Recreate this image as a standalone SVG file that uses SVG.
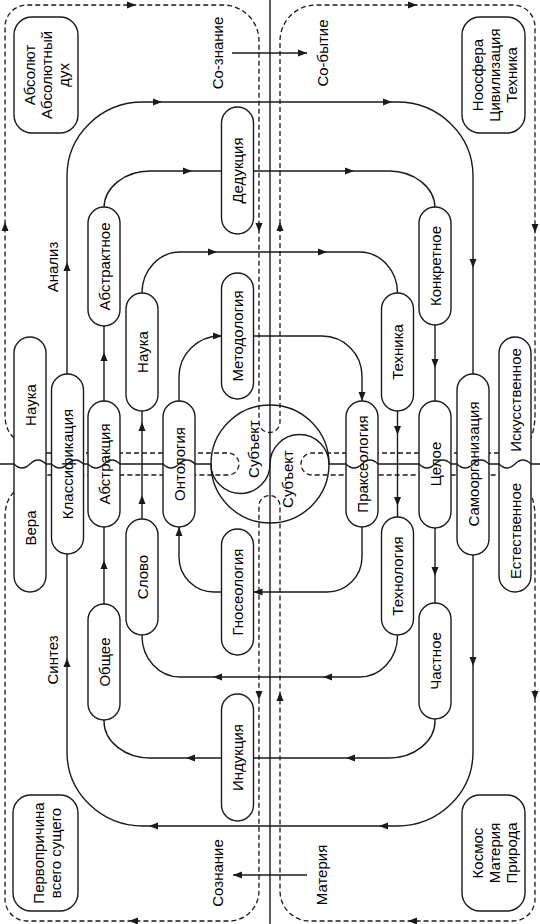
<svg xmlns="http://www.w3.org/2000/svg" width="540" height="924" viewBox="0 0 540 924">
<style>
.ln{fill:none;stroke:#1a1a1a;stroke-width:1.4}
.ds{fill:none;stroke:#1a1a1a;stroke-width:1.3;stroke-dasharray:5 3}
.nd{fill:#fff;stroke:#1a1a1a;stroke-width:1.4}
.ah{fill:#1a1a1a}
.tx{font-family:"Liberation Sans",Arial,sans-serif;font-size:15px;fill:#000;text-anchor:middle;dominant-baseline:central}
</style>
<defs>
<path id="ah" d="M0,0 L-9,-3.5 L-9,3.5 Z"/>
</defs>
<rect width="540" height="924" fill="#fff"/>

<g id="connectors">
  <path class="ln" d="M270,0 V924"/>
  <path class="ds" d="M14,438 C8,432 5,426 5,414 V27 A22,22 0 0 1 27,5 H223 A36,36 0 0 1 259,41 V422 A10.5,10.5 0 0 0 280,422 V41 A36,36 0 0 1 316,5 H513 A22,22 0 0 1 535,27 V414 C535,426 533,432 531,438"/>
  <path class="ds" d="M14,492 C8,498 5,506 5,518 V899 A22,22 0 0 0 27,921 H229 A30,30 0 0 0 259,891 V506 A10.5,10.5 0 0 1 280,506 V891 A30,30 0 0 0 310,921 H513 A22,22 0 0 0 535,899 V518 C535,506 533,500 531,494"/>
  <path class="ds" d="M46,453 H228 A11,11 0 0 1 228,475 H46"/>
  <path class="ds" d="M499,453 H312 A11,11 0 0 0 312,475 H499"/>
  <rect class="ln" x="67" y="102" width="406" height="724" rx="76" ry="74"/>
  <rect class="ln" x="104" y="171" width="331" height="587" rx="46" ry="37"/>
  <rect class="ln" x="142" y="252" width="255.5" height="425" rx="38" ry="41"/>
  <path class="ln" d="M179,401 V377 A41,41 0 0 1 220,336 H222"/>
  <path class="ln" d="M253.5,336 H322 A40,40 0 0 1 362,376 V401"/>
  <path class="ln" d="M362,527 V557 A35,35 0 0 1 327,592 H253.5"/>
  <path class="ln" d="M221.5,592 H214 A35,35 0 0 1 179,557 V527"/>
  <path class="ln" d="M232,53 H307"/>
  <path class="ln" d="M307,875 H233"/>
  <g class="ah">
    <use href="#ah" transform="translate(307,53)"/>
    <use href="#ah" transform="translate(233,875) rotate(180)"/>
    <use href="#ah" transform="translate(162,102)"/>
    <use href="#ah" transform="translate(392,102)"/>
    <use href="#ah" transform="translate(67,262) rotate(-90)"/>
    <use href="#ah" transform="translate(67,658) rotate(-90)"/>
    <use href="#ah" transform="translate(473,268) rotate(90)"/>
    <use href="#ah" transform="translate(473,666) rotate(90)"/>
    <use href="#ah" transform="translate(149,826) rotate(180)"/>
    <use href="#ah" transform="translate(379,826) rotate(180)"/>
    <use href="#ah" transform="translate(192,171)"/>
    <use href="#ah" transform="translate(354,171)"/>
    <use href="#ah" transform="translate(104,352) rotate(-90)"/>
    <use href="#ah" transform="translate(104,560) rotate(-90)"/>
    <use href="#ah" transform="translate(435,368) rotate(90)"/>
    <use href="#ah" transform="translate(435,576) rotate(90)"/>
    <use href="#ah" transform="translate(186,758) rotate(180)"/>
    <use href="#ah" transform="translate(346,758) rotate(180)"/>
    <use href="#ah" transform="translate(217,252)"/>
    <use href="#ah" transform="translate(327,252)"/>
    <use href="#ah" transform="translate(142,422) rotate(-90)"/>
    <use href="#ah" transform="translate(142,495) rotate(-90)"/>
    <use href="#ah" transform="translate(397.5,435) rotate(90)"/>
    <use href="#ah" transform="translate(397.5,506) rotate(90)"/>
    <use href="#ah" transform="translate(213,677) rotate(180)"/>
    <use href="#ah" transform="translate(323,677) rotate(180)"/>
    <use href="#ah" transform="translate(222,336)"/>
    <use href="#ah" transform="translate(362,401) rotate(90)"/>
    <use href="#ah" transform="translate(253.5,592) rotate(180)"/>
    <use href="#ah" transform="translate(179,527) rotate(-90)"/>
    <use href="#ah" transform="translate(5,222) rotate(-90)"/>
    <use href="#ah" transform="translate(136,5)"/>
    <use href="#ah" transform="translate(259,232) rotate(90)"/>
    <use href="#ah" transform="translate(280,222) rotate(-90)"/>
    <use href="#ah" transform="translate(417,5)"/>
    <use href="#ah" transform="translate(535,233) rotate(90)"/>
    <use href="#ah" transform="translate(259,700) rotate(90)"/>
    <use href="#ah" transform="translate(280,692) rotate(-90)"/>
    <use href="#ah" transform="translate(129,921) rotate(180)"/>
    <use href="#ah" transform="translate(408,921) rotate(180)"/>
    <use href="#ah" transform="translate(535,700) rotate(90)"/>
  </g>
</g>

<g id="labels">
  <text class="tx" transform="translate(217.5,53) rotate(-90)">Со-знание</text>
  <text class="tx" transform="translate(322.5,53) rotate(-90)">Со-бытие</text>
  <text class="tx" transform="translate(217.5,873) rotate(-90)">Сознание</text>
  <text class="tx" transform="translate(321,875) rotate(-90)">Материя</text>
  <text class="tx" transform="translate(52,267) rotate(-90)">Анализ</text>
  <text class="tx" transform="translate(52,660) rotate(-90)">Синтез</text>
</g>

<g id="box-absolut"><rect class="nd" x="14" y="17" width="64" height="116" rx="18"/>
  <text class="tx" transform="translate(46,75) rotate(-90)"><tspan x="0" y="-17">Абсолют</tspan><tspan x="0" y="0">Абсолютный</tspan><tspan x="0" y="17">дух</tspan></text></g>
<g id="box-noosfera"><rect class="nd" x="462" y="17" width="63" height="116" rx="18"/>
  <text class="tx" transform="translate(493.5,75) rotate(-90)"><tspan x="0" y="-17">Ноосфера</tspan><tspan x="0" y="0">Цивилизация</tspan><tspan x="0" y="17">Техника</tspan></text></g>
<g id="box-pervoprichina"><rect class="nd" x="13" y="795" width="65" height="116" rx="18"/>
  <text class="tx" transform="translate(46,853) rotate(-90)"><tspan x="0" y="-8.5">Первопричина</tspan><tspan x="0" y="8.5">всего сущего</tspan></text></g>
<g id="box-kosmos"><rect class="nd" x="462" y="795" width="63" height="116" rx="18"/>
  <text class="tx" transform="translate(493.5,853) rotate(-90)"><tspan x="0" y="-17">Космос</tspan><tspan x="0" y="0">Материя</tspan><tspan x="0" y="17">Природа</tspan></text></g>

<g id="n-nauka-vera"><rect class="nd" x="14" y="337" width="32" height="255" rx="16"/>
  <text class="tx" transform="translate(30,405) rotate(-90)">Наука</text>
  <text class="tx" transform="translate(30,528) rotate(-90)">Вера</text></g>
<g id="n-klassifikaciya"><rect class="nd" x="51.5" y="374" width="32" height="180" rx="16"/>
  <text class="tx" transform="translate(67.5,464) rotate(-90)">Классификация</text></g>
<g id="n-abstraktnoe"><rect class="nd" x="88" y="207" width="32" height="119" rx="16"/>
  <text class="tx" transform="translate(104,266.5) rotate(-90)">Абстрактное</text></g>
<g id="n-abstrakciya"><rect class="nd" x="88" y="401" width="32" height="126" rx="16"/>
  <text class="tx" transform="translate(104,464) rotate(-90)">Абстракция</text></g>
<g id="n-obshchee"><rect class="nd" x="88" y="604" width="32" height="116" rx="16"/>
  <text class="tx" transform="translate(104,662) rotate(-90)">Общее</text></g>
<g id="n-nauka"><rect class="nd" x="126" y="293" width="32" height="118" rx="16"/>
  <text class="tx" transform="translate(142,352) rotate(-90)">Наука</text></g>
<g id="n-slovo"><rect class="nd" x="126" y="519" width="32" height="116" rx="16"/>
  <text class="tx" transform="translate(142,577) rotate(-90)">Слово</text></g>
<g id="n-ontologiya"><rect class="nd" x="163" y="401" width="32" height="126" rx="16"/>
  <text class="tx" transform="translate(179,464) rotate(-90)">Онтология</text></g>
<g id="n-metodologiya"><rect class="nd" x="221.5" y="273" width="32" height="126" rx="16"/>
  <text class="tx" transform="translate(237.5,336) rotate(-90)">Методология</text></g>
<g id="n-gnoseologiya"><rect class="nd" x="221.5" y="529" width="32" height="126" rx="16"/>
  <text class="tx" transform="translate(237.5,592) rotate(-90)">Гносеология</text></g>
<g id="n-dedukciya"><rect class="nd" x="221.5" y="107" width="32" height="127" rx="16"/>
  <text class="tx" transform="translate(237.5,170.5) rotate(-90)">Дедукция</text></g>
<g id="n-indukciya"><rect class="nd" x="221.5" y="694" width="32" height="127" rx="16"/>
  <text class="tx" transform="translate(237.5,757.5) rotate(-90)">Индукция</text></g>
<g id="n-prakseologiya"><rect class="nd" x="346" y="401" width="32" height="126" rx="16"/>
  <text class="tx" transform="translate(362,464) rotate(-90)">Праксеология</text></g>
<g id="n-tehnika"><rect class="nd" x="381.5" y="293" width="32" height="118" rx="16"/>
  <text class="tx" transform="translate(397.5,352) rotate(-90)">Техника</text></g>
<g id="n-tehnologiya"><rect class="nd" x="381.5" y="517" width="32" height="118" rx="16"/>
  <text class="tx" transform="translate(397.5,576) rotate(-90)">Технология</text></g>
<g id="n-konkretnoe"><rect class="nd" x="419" y="207" width="32" height="118" rx="16"/>
  <text class="tx" transform="translate(435,266) rotate(-90)">Конкретное</text></g>
<g id="n-celoe"><rect class="nd" x="419" y="401" width="32" height="127" rx="16"/>
  <text class="tx" transform="translate(435,464) rotate(-90)">Целое</text></g>
<g id="n-chastnoe"><rect class="nd" x="419" y="603" width="32" height="116" rx="16"/>
  <text class="tx" transform="translate(435,661) rotate(-90)">Частное</text></g>
<g id="n-samoorganizaciya"><rect class="nd" x="457" y="374" width="32" height="181" rx="16"/>
  <text class="tx" transform="translate(473,464) rotate(-90)">Самоорганизация</text></g>
<g id="n-iskusstvennoe"><rect class="nd" x="499" y="337" width="32" height="255" rx="16"/>
  <text class="tx" transform="translate(515,400) rotate(-90)">Искусственное</text>
  <text class="tx" transform="translate(515,531) rotate(-90)">Естественное</text></g>

<g id="yinyang">
  <circle class="ln" cx="270" cy="464" r="59"/>
  <text class="tx" transform="translate(253,449) rotate(-90)">Субъект</text>
  <text class="tx" transform="translate(287,479) rotate(-90)">Субъект</text>
</g>

<g id="divider">
  <path class="ln" d="M0,464 H14 q8,8 16,0 t16,0 H51.5 q8,8 16,0 t16,0 H88 q8,8 16,0 t16,0 H163 q8,8 16,0 t16,0 H211 A29.5,29.5 0 0 0 270,464 A29.5,29.5 0 0 1 329,464 H346 q8,8 16,0 t16,0 H419 q8,8 16,0 t16,0 H457 q8,8 16,0 t16,0 H499 q8,8 16,0 t16,0 H540"/>
</g>
</svg>
